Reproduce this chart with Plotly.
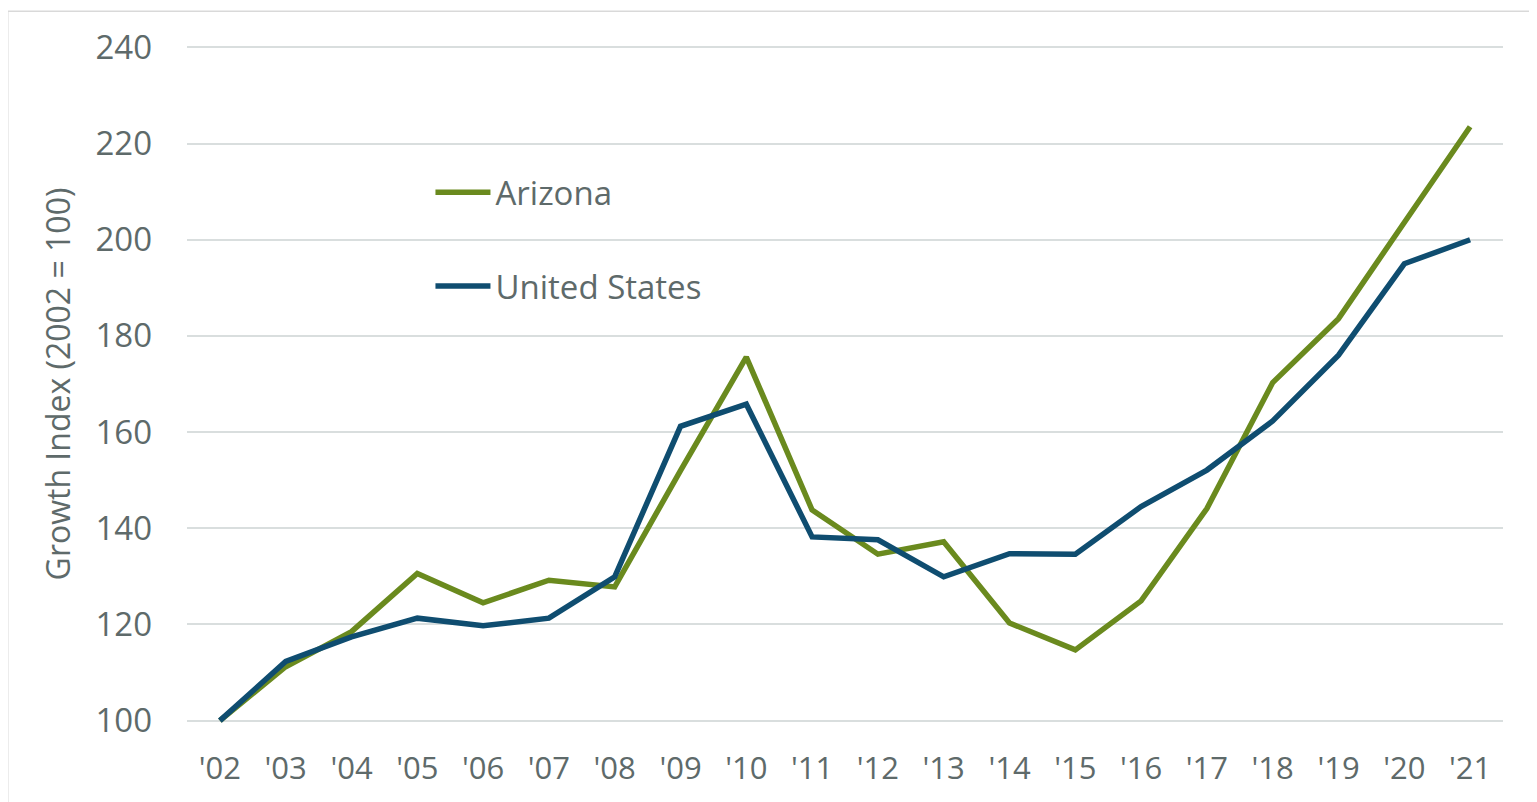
import plotly.graph_objects as go

# Growth index, 2002 = 100
years = ["'02", "'03", "'04", "'05", "'06", "'07", "'08", "'09", "'10", "'11",
         "'12", "'13", "'14", "'15", "'16", "'17", "'18", "'19", "'20", "'21"]
arizona = [100, 111.2, 118.5, 130.6, 124.5, 129.2, 127.8, 152.0, 175.6, 143.8,
           134.6, 137.2, 120.3, 114.7, 124.9, 144.1, 170.3, 183.6, 203.6, 223.5]
united_states = [100, 112.3, 117.4, 121.3, 119.7, 121.3, 129.9, 161.2, 165.8, 138.2,
                 137.6, 129.9, 134.7, 134.6, 144.5, 152.1, 162.3, 176.0, 195.0, 200.0]
y_ticks = [100, 120, 140, 160, 180, 200, 220, 240]

text_color = '#5E6A6A'
grid_color = '#D9DEDE'
font_family = 'Open Sans'

fig = go.Figure()
fig.add_trace(go.Scatter(x=years, y=arizona, name='Arizona', mode='lines',
                         line=dict(color='#6A8A1E', width=5.5), legendgroup='az'))
fig.add_trace(go.Scatter(x=years, y=united_states, name='United States', mode='lines',
                         line=dict(color='#0F4D70', width=5.5), legendgroup='us'))

# the page body adds an 8px offset, so margins are shifted to compensate
fig.update_layout(
    width=1537, height=802,
    margin=dict(l=179, r=42, t=25, b=75),
    paper_bgcolor='white', plot_bgcolor='white',
    font=dict(family=font_family, color=text_color, size=32),
    legend=dict(x=0.185, y=0.813, xanchor='left', yanchor='top',
                font=dict(size=33, color=text_color), itemwidth=55,
                bgcolor='rgba(0,0,0,0)', tracegroupgap=48),
    showlegend=True,
)
fig.update_xaxes(type='category', range=[-0.5, 19.5], showgrid=False, zeroline=False,
                 showline=False, ticks='', tickfont=dict(size=31, color=text_color),
                 ticklabelstandoff=12)
fig.update_yaxes(range=[97, 243], tickvals=y_ticks, showgrid=True, gridcolor=grid_color,
                 gridwidth=1.5, zeroline=False, showline=False, ticks='',
                 tickfont=dict(size=33, color=text_color), ticklabelstandoff=34,
                 title=dict(text='Growth Index (2002 = 100)', standoff=15,
                            font=dict(size=32, color=text_color)))

# light frame around the chart area
fig.add_shape(type='rect', xref='paper', yref='paper',
              x0=-0.1362, x1=1.04, y0=-0.13, y1=1.031,
              line=dict(color='#D9D9D9', width=1.5), fillcolor='rgba(0,0,0,0)', layer='below')

fig.write_html("out.html")
